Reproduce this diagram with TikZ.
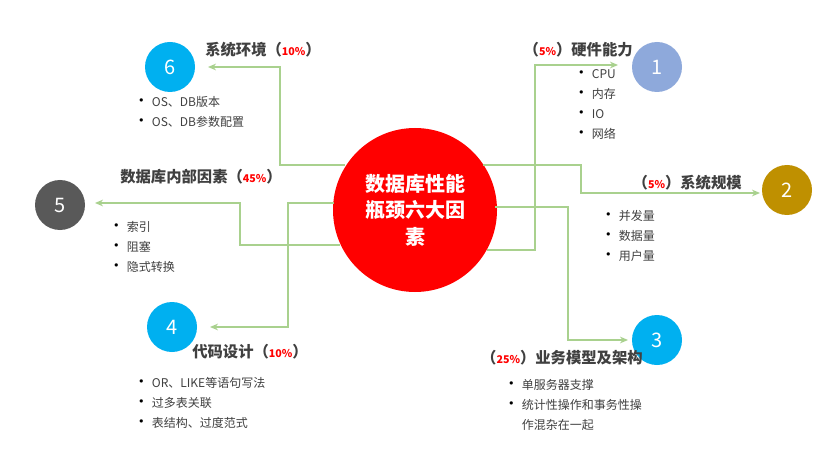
\documentclass[tikz,border=0pt]{standalone}
\usepackage{fontspec}
\setmainfont{Noto Sans CJK SC}
\usetikzlibrary{arrows.meta}
\definecolor{gl}{HTML}{A9D18E}
\definecolor{tx}{HTML}{404040}
\definecolor{bl}{HTML}{00B0F0}
\tikzset{
 num/.style={circle,minimum size=37.5pt,inner sep=0pt,text=white,font=\fontsize{15}{15}\selectfont},
 ttl/.style={text=tx,font=\bfseries\fontsize{11.5}{13}\selectfont,inner sep=0pt},
 lst/.style={text=tx,font=\fontsize{9}{15}\selectfont,align=left,inner sep=0pt},
 con/.style={gl,line width=1.2pt,-{Stealth[length=6pt,width=5pt]}},
}
\newcommand{\pc}[1]{{\color{red}\fontsize{8}{8}\selectfont #1}}
\newcommand{\bu}{\makebox[14pt][l]{\color{black}\large •}}
\newcommand{\bi}{\hspace*{14pt}}
\begin{document}
\begin{tikzpicture}[x=0.75pt,y=-0.75pt]
\useasboundingbox[fill=white] (0,0) rectangle (837,452);
\node[circle,fill=red,minimum size=123pt,inner sep=0pt,text=white,align=center,font=\bfseries\fontsize{15}{20}\selectfont] (c) at (415,210) {数据库性能\\瓶颈六大因\\素};
\node[num,fill=bl] (n6) at (170,67) {6};
\node[num,fill={rgb,255:red,142;green,169;blue,219}] (n1) at (657,67) {1};
\node[num,fill={rgb,255:red,191;green,144;blue,0}] (n2) at (787,190) {2};
\node[num,fill=bl] (n3) at (657,340) {3};
\node[num,fill={rgb,255:red,89;green,89;blue,89}] (n5) at (60,205) {5};
\node[num,fill=bl] (n4) at (172,327) {4};
\coordinate (e6) at (208,67);
\coordinate (e1) at (618,65);
\coordinate (e2) at (760,193);
\coordinate (e3) at (628,340);
\coordinate (e5) at (95,203);
\coordinate (e4) at (210,327);
\draw[con] (345,165) -- (280,165) -- (280,67) -- (e6);
\draw[con] (487,250) -- (535,250) -- (535,65) -- (e1);
\draw[con] (483,165) -- (581,165) -- (581,193) -- (e2);
\draw[con] (495,207) -- (568,207) -- (568,340) -- (e3);
\draw[con] (340,245) -- (240,245) -- (240,203) -- (e5);
\draw[con] (334,203) -- (288,203) -- (288,327) -- (e4);
\node[ttl,anchor=west] (t6) at (205,50) {系统环境（\pc{10\%}）};
\node[ttl,anchor=east] (t1) at (633,50) {（\pc{5\%}）硬件能力};
\node[ttl,anchor=east] (t2) at (742,183) {（\pc{5\%}）系统规模};
\node[ttl,anchor=east] (t3) at (643,358) {（\pc{25\%}）业务模型及架构};
\node[ttl,anchor=west] (t5) at (120,177) {数据库内部因素（\pc{45\%}）};
\node[ttl,anchor=west] (t4) at (192,352) {代码设计（\pc{10\%}）};
\node[lst,anchor=north west] (l6) at (133,96) {\bu OS、DB版本\\\bu OS、DB参数配置};
\node[lst,anchor=north west] (l1) at (573,69) {\bu CPU\\\bu 内存\\\bu IO\\\bu 网络};
\node[lst,anchor=north west] (l2) at (600,210) {\bu 并发量\\\bu 数据量\\\bu 用户量};
\node[lst,anchor=north west] (l3) at (503,379) {\bu 单服务器支撑\\\bu 统计性操作和事务性操\\\bi 作混杂在一起};
\node[lst,anchor=north west] (l5) at (108,221) {\bu 索引\\\bu 阻塞\\\bu 隐式转换};
\node[lst,anchor=north west] (l4) at (133,377) {\bu OR、LIKE等语句写法\\\bu 过多表关联\\\bu 表结构、过度范式};
\end{tikzpicture}
\end{document}
